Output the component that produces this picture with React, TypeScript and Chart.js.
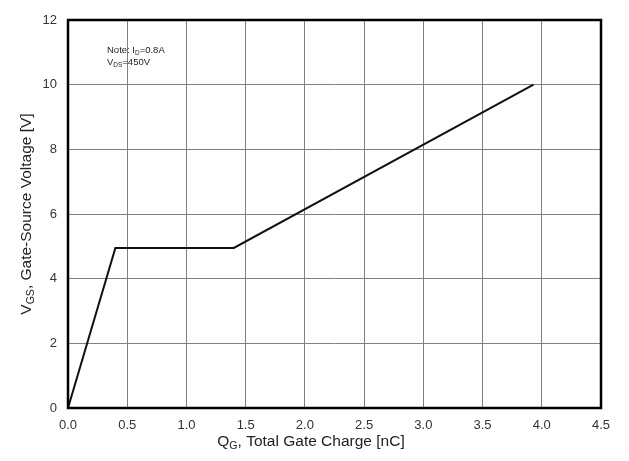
import React, { useEffect, useRef } from "react";
import { Chart, registerables } from "chart.js";

Chart.register(...registerables);

const qg = [0, 0.4, 1.4, 3.93];
const vgs = [0, 4.95, 4.95, 10];
const xTickStep = 0.5;
const yTickStep = 2;

const FONT = '"Liberation Sans", Arial, sans-serif';

function drawSub(ctx: CanvasRenderingContext2D, parts: [string, boolean][], x: number, y: number, size: number, align: "left" | "center") {
  const subSize = size * 0.68;
  let total = 0;
  for (const [t, sub] of parts) {
    ctx.font = `${sub ? subSize : size}px ${FONT}`;
    total += ctx.measureText(t).width;
  }
  let cx = align === "center" ? x - total / 2 : x;
  for (const [t, sub] of parts) {
    ctx.font = `${sub ? subSize : size}px ${FONT}`;
    ctx.fillText(t, cx, sub ? y + size * 0.22 : y);
    cx += ctx.measureText(t).width;
  }
}

const decor = {
  id: "decor",
  afterDraw(chart: any) {
    const { ctx, chartArea } = chart;
    ctx.save();
    ctx.strokeStyle = "#000";
    ctx.lineWidth = 2.5;
    ctx.strokeRect(chartArea.left, chartArea.top, chartArea.right - chartArea.left, chartArea.bottom - chartArea.top);
    ctx.fillStyle = "#222";
    ctx.textBaseline = "alphabetic";
    ctx.textAlign = "left";
    drawSub(ctx, [["Q", false], ["G", true], [", Total Gate Charge [nC]", false]], 311, 446, 15.5, "center");
    ctx.save();
    ctx.translate(31, 214);
    ctx.rotate(-Math.PI / 2);
    drawSub(ctx, [["V", false], ["GS", true], [", Gate-Source Voltage [V]", false]], 0, 0, 15.5, "center");
    ctx.restore();
    drawSub(ctx, [["Note: I", false], ["D", true], ["=0.8A", false]], 107, 53, 9.5, "left");
    drawSub(ctx, [["V", false], ["DS", true], ["=450V", false]], 107, 65, 9.5, "left");
    ctx.restore();
  },
};

export default function App() {
  const ref = useRef<HTMLCanvasElement>(null);
  useEffect(() => {
    document.body.style.margin = "0";
    const chart = new Chart(ref.current!, {
      type: "scatter",
      data: {
        datasets: [
          {
            data: qg.map((x, i) => ({ x, y: vgs[i] })),
            showLine: true,
            borderColor: "#111",
            borderWidth: 2,
            pointRadius: 0,
            tension: 0,
          },
        ],
      },
      options: {
        animation: false,
        responsive: false,
        devicePixelRatio: 1,
        layout: { padding: { left: 0, right: 28, top: 20, bottom: 0 } },
        plugins: { legend: { display: false }, tooltip: { enabled: false } },
        scales: {
          x: {
            type: "linear",
            min: 0,
            max: 4.5,
            ticks: {
              stepSize: xTickStep,
              callback: (v: any) => Number(v).toFixed(1),
              color: "#333",
              font: { family: FONT, size: 13 },
              padding: 10,
              maxRotation: 0,
            },
            grid: { color: "#808080", lineWidth: 1, drawTicks: false },
            border: { display: false },
            afterFit: (s: any) => {
              s.height = 53;
            },
          },
          y: {
            type: "linear",
            min: 0,
            max: 12,
            ticks: {
              stepSize: yTickStep,
              color: "#333",
              font: { family: FONT, size: 13 },
              padding: 11,
            },
            grid: { color: "#808080", lineWidth: 1, drawTicks: false },
            border: { display: false },
            afterFit: (s: any) => {
              s.width = 68;
            },
          },
        },
      },
      plugins: [decor],
    });
    return () => chart.destroy();
  }, []);
  return (
    <div style={{ width: 629, height: 461, background: "#fff" }}>
      <canvas ref={ref} width={629} height={461} />
    </div>
  );
}
